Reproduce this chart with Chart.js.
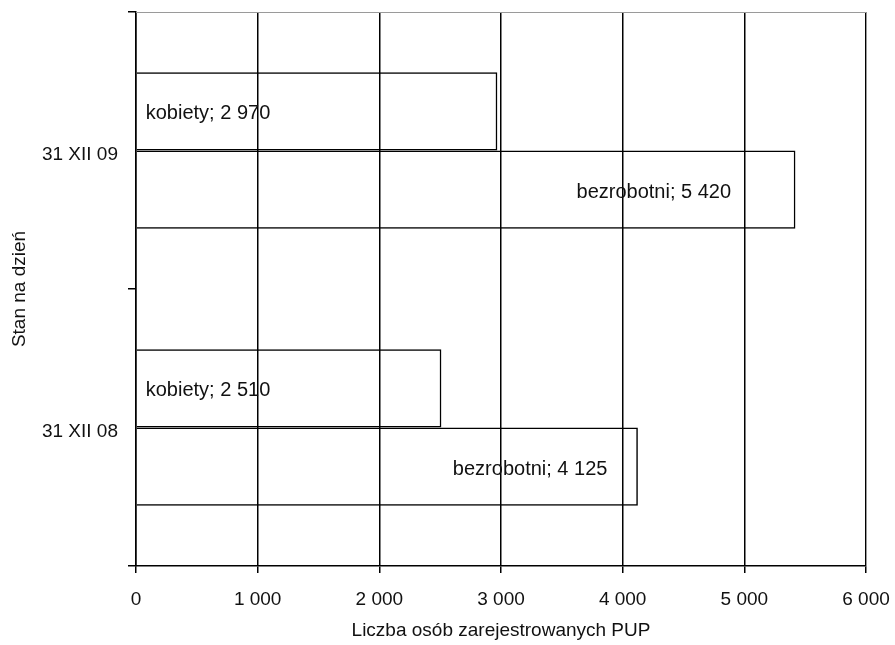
<!DOCTYPE html>
<html>
<head>
<meta charset="utf-8">
<script src="https://cdn.jsdelivr.net/npm/chart.js@4.4.0/dist/chart.umd.min.js"></script>
<style>
    html, body { margin: 0; padding: 0; background: #fff; }
    #wrap { width: 895px; height: 645px; }
</style>
</head>
<body>
<div id="wrap"><canvas id="myChart"></canvas></div>
<script>
const categories = ["31 XII 09", "31 XII 08"];
const kobiety = [2970, 2510];
const bezrobotni = [5420, 4125];
const seriesNames = ["kobiety", "bezrobotni"];
const xTicks = [0, 1000, 2000, 3000, 4000, 5000, 6000];

const fontFamily = "'Liberation Sans', Arial, sans-serif";

// "2 970" style numbers
const fmt = v => String(v).replace(/\B(?=(\d{3})+(?!\d))/g, " ");

// labels inside the bars, like the Excel original
const barLabels = {
    id: "barLabels",
    afterDatasetsDraw(chart) {
        const ctx = chart.ctx;
        ctx.save();
        ctx.font = "20px " + fontFamily;
        ctx.fillStyle = "#111";
        ctx.textBaseline = "middle";
        chart.data.datasets.forEach((ds, i) => {
            chart.getDatasetMeta(i).data.forEach((bar, j) => {
                const text = ds.label + "; " + fmt(ds.data[j]);
                if (i === 0) {
                    ctx.textAlign = "left";
                    ctx.fillText(text, bar.base + 9, bar.y + 2);
                } else {
                    ctx.textAlign = "center";
                    ctx.fillText(text, bar.base + (bar.x - bar.base) * 0.785, bar.y + 3);
                }
            });
        });
        ctx.restore();
    }
};

// grey frame on top and right of the plot area
const plotFrame = {
    id: "plotFrame",
    afterDraw(chart) {
        const { ctx, chartArea: a } = chart;
        ctx.save();
        ctx.strokeStyle = "#9a9a9a";
        ctx.lineWidth = 1;
        ctx.beginPath();
        ctx.moveTo(a.left, a.top + 0.5);
        ctx.lineTo(a.right + 0.5, a.top + 0.5);
        ctx.lineTo(a.right + 0.5, a.bottom);
        ctx.stroke();
        ctx.restore();
    }
};

const data = {
    labels: categories,
    datasets: [
        {
            label: seriesNames[0],
            data: kobiety,
            backgroundColor: "rgba(255,255,255,0)",
            borderColor: "#000",
            borderWidth: 1.5
        },
        {
            label: seriesNames[1],
            data: bezrobotni,
            backgroundColor: "rgba(255,255,255,0)",
            borderColor: "#000",
            borderWidth: 1.5
        }
    ]
};

const config = {
    type: "bar",
    data,
    plugins: [barLabels, plotFrame],
    options: {
        indexAxis: "y",
        responsive: false,
        animation: false,
        devicePixelRatio: 1,
        categoryPercentage: 0.565,
        barPercentage: 1,
        layout: { padding: { top: 12, right: 29, left: 0, bottom: 0 } },
        plugins: {
            legend: { display: false },
            tooltip: { enabled: false }
        },
        scales: {
            x: {
                type: "linear",
                min: 0,
                max: 6000,
                z: 1,
                afterBuildTicks: scale => { scale.ticks = xTicks.map(v => ({ value: v })); },
                afterFit: scale => {
                    scale.height = 79;
                    scale.paddingLeft = 0;
                    scale.paddingRight = 0;
                },
                grid: {
                    color: "#000",
                    lineWidth: 1.5,
                    tickLength: 7,
                    tickColor: "#000"
                },
                border: { color: "#000", width: 1.5 },
                ticks: {
                    color: "#111",
                    padding: 15,
                    font: { family: fontFamily, size: 19 },
                    callback: v => fmt(v)
                },
                title: {
                    display: true,
                    text: "Liczba osób zarejestrowanych PUP",
                    color: "#111",
                    font: { family: fontFamily, size: 19 },
                    padding: { bottom: 3 }
                }
            },
            y: {
                afterFit: scale => {
                    scale.width = 136;
                    scale.paddingTop = 0;
                    scale.paddingBottom = 0;
                },
                grid: {
                    offset: true,
                    drawOnChartArea: false,
                    tickLength: 8,
                    tickColor: "#000",
                    lineWidth: 1.5
                },
                border: { color: "#000", width: 1.5 },
                ticks: {
                    color: "#111",
                    padding: 10,
                    labelOffset: 4,
                    font: { family: fontFamily, size: 19 }
                },
                title: {
                    display: true,
                    text: "Stan na dzień",
                    color: "#111",
                    font: { family: fontFamily, size: 19 },
                    padding: { top: 8 }
                }
            }
        }
    }
};

const canvas = document.getElementById("myChart");
canvas.width = 895;
canvas.height = 645;
window.myChart = new Chart(canvas, config);
</script>
</body>
</html>
